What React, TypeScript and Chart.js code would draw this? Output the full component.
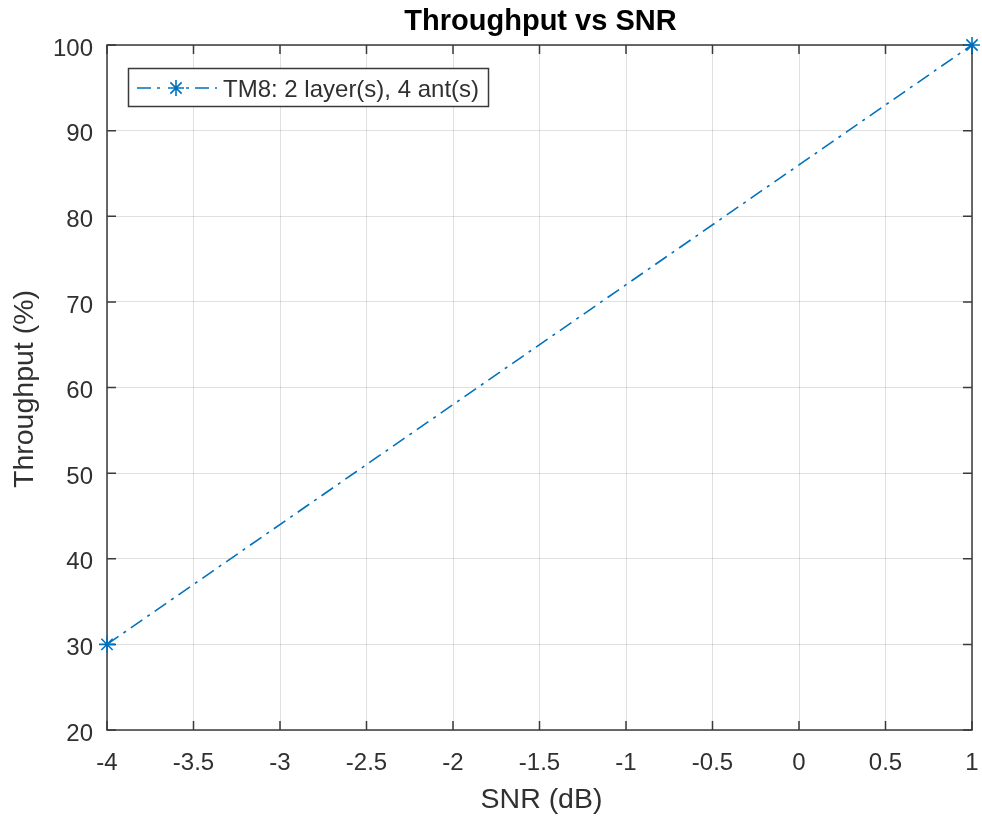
import React, { useEffect, useRef } from "react";
import { Chart, registerables } from "chart.js";

Chart.register(...registerables);

const snrDb = [-4, 1];
const throughputPct = [30, 100];
const xTickValues = [-4, -3.5, -3, -2.5, -2, -1.5, -1, -0.5, 0, 0.5, 1];
const yTickValues = [20, 30, 40, 50, 60, 70, 80, 90, 100];
const titleText = "Throughput vs SNR";
const xAxisTitle = "SNR (dB)";
const yAxisTitle = "Throughput (%)";
const seriesLabel = "TM8: 2 layer(s), 4 ant(s)";

const FONT = "'Liberation Sans', Arial, Helvetica, sans-serif";
const SERIES_COLOR = "rgb(0,114,189)";
const AXIS_COLOR = "#3a3a3a";
const TEXT_COLOR = "#303030";
const GRID_COLOR = "rgba(0,0,0,0.12)";
const DASH = [14, 6, 3, 6];

const decorPlugin = {
  id: "matlabDecor",
  beforeDatasetsDraw(chart: any) {
    const { ctx, chartArea: a, scales } = chart;
    ctx.save();
    ctx.strokeStyle = AXIS_COLOR;
    ctx.lineWidth = 1.5;
    ctx.setLineDash([]);
    ctx.strokeRect(a.left, a.top, a.right - a.left, a.bottom - a.top);
    const tl = 9;
    ctx.beginPath();
    scales.x.ticks.forEach((t: any) => {
      const px = scales.x.getPixelForValue(t.value);
      ctx.moveTo(px, a.bottom);
      ctx.lineTo(px, a.bottom - tl);
      ctx.moveTo(px, a.top);
      ctx.lineTo(px, a.top + tl);
    });
    scales.y.ticks.forEach((t: any) => {
      const py = scales.y.getPixelForValue(t.value);
      ctx.moveTo(a.left, py);
      ctx.lineTo(a.left + tl, py);
      ctx.moveTo(a.right, py);
      ctx.lineTo(a.right - tl, py);
    });
    ctx.stroke();
    ctx.restore();
  },
  afterDraw(chart: any) {
    const { ctx, chartArea: a } = chart;
    ctx.save();
    const cx = (a.left + a.right) / 2 + 1;
    // title
    ctx.fillStyle = "#000";
    ctx.font = `bold 29px ${FONT}`;
    ctx.textAlign = "center";
    ctx.textBaseline = "alphabetic";
    ctx.fillText(titleText, cx, 30);
    // x title
    ctx.fillStyle = TEXT_COLOR;
    ctx.font = `28.5px ${FONT}`;
    ctx.fillText(xAxisTitle, cx + 1, 808);
    // y title
    ctx.save();
    ctx.translate(32.5, 389);
    ctx.rotate(-Math.PI / 2);
    ctx.fillText(yAxisTitle, 0, 0);
    ctx.restore();
    // legend
    const lx = 128.5, ly = 68.5, lw = 360, lh = 38;
    ctx.fillStyle = "#fff";
    ctx.fillRect(lx, ly, lw, lh);
    ctx.strokeStyle = AXIS_COLOR;
    ctx.lineWidth = 1.5;
    ctx.strokeRect(lx, ly, lw, lh);
    const my = 88;
    ctx.strokeStyle = SERIES_COLOR;
    ctx.lineWidth = 1.6;
    ctx.setLineDash(DASH);
    ctx.beginPath();
    ctx.moveTo(137, my);
    ctx.lineTo(217, my);
    ctx.stroke();
    ctx.setLineDash([]);
    ctx.fillStyle = "#fff";
    ctx.fillRect(166, my - 9, 20, 18);
    const r = 8, mx = 176;
    ctx.beginPath();
    for (let i = 0; i < 4; i++) {
      const ang = (i * Math.PI) / 4;
      ctx.moveTo(mx + r * Math.cos(ang), my + r * Math.sin(ang));
      ctx.lineTo(mx - r * Math.cos(ang), my - r * Math.sin(ang));
    }
    ctx.stroke();
    ctx.fillStyle = TEXT_COLOR;
    ctx.font = `24px ${FONT}`;
    ctx.textAlign = "left";
    ctx.fillText(seriesLabel, 223, 97);
    ctx.restore();
  },
};

export default function App() {
  const ref = useRef<HTMLCanvasElement | null>(null);
  useEffect(() => {
    if (!ref.current) return;
    const points = snrDb.map((x, i) => ({ x, y: throughputPct[i] }));
    const chart = new Chart(ref.current, {
      type: "line",
      data: {
        datasets: [
          {
            label: seriesLabel,
            data: points,
            borderColor: SERIES_COLOR,
            backgroundColor: SERIES_COLOR,
            borderWidth: 1.6,
            borderDash: DASH,
            pointStyle: "star",
            pointRadius: 8,
            pointBorderWidth: 1.6,
            pointBorderColor: SERIES_COLOR,
            fill: false,
            clip: false as any,
          },
        ],
      },
      options: {
        responsive: false,
        animation: false,
        layout: { padding: { top: 45, right: 10, left: 0, bottom: 0 } },
        plugins: {
          legend: { display: false },
          title: { display: false },
          tooltip: { enabled: false },
        },
        scales: {
          x: {
            type: "linear",
            min: -4,
            max: 1,
            afterBuildTicks: (s: any) => {
              s.ticks = xTickValues.map((v) => ({ value: v }));
            },
            afterFit: (s: any) => {
              s.height = 89;
              s.paddingLeft = 0;
              s.paddingRight = 0;
            },
            grid: { color: GRID_COLOR, drawTicks: false, lineWidth: 1 },
            border: { display: false },
            ticks: {
              padding: 19,
              maxRotation: 0,
              autoSkip: false,
              color: TEXT_COLOR,
              font: { family: FONT, size: 24 },
              callback: (v: any) => String(v),
            },
          },
          y: {
            type: "linear",
            min: 20,
            max: 100,
            afterBuildTicks: (s: any) => {
              s.ticks = yTickValues.map((v) => ({ value: v }));
            },
            afterFit: (s: any) => {
              s.width = 107;
              s.paddingTop = 0;
              s.paddingBottom = 0;
            },
            grid: { color: GRID_COLOR, drawTicks: false, lineWidth: 1 },
            border: { display: false },
            ticks: {
              padding: 14,
              autoSkip: false,
              color: TEXT_COLOR,
              labelOffset: 4,
              font: { family: FONT, size: 24 },
              callback: (v: any) => String(v),
            },
          },
        },
      },
      plugins: [decorPlugin],
    });
    return () => chart.destroy();
  }, []);
  return (
    <div style={{ position: "absolute", left: 0, top: 0, width: 982, height: 819, background: "#fff" }}>
      <canvas ref={ref} width={982} height={819} style={{ display: "block" }} />
    </div>
  );
}
